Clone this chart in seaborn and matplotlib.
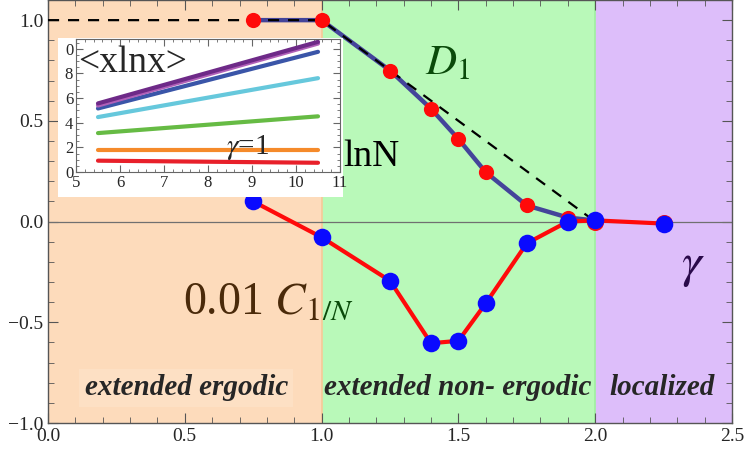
import numpy as np
import pandas as pd
import matplotlib
matplotlib.use("Agg")
import matplotlib.pyplot as plt
from matplotlib.patches import Rectangle
from matplotlib.ticker import MultipleLocator
import seaborn as sns

# main panel data
gamma_d1 = [0.75, 1.0, 1.25, 1.4, 1.5, 1.6, 1.75, 1.9, 2.0]
d1_vals = [1.0, 1.0, 0.75, 0.56, 0.41, 0.245, 0.08, 0.02, 0.005]

gamma_c = [0.75, 1.0, 1.25, 1.4, 1.5, 1.6, 1.75, 1.9, 2.0, 2.25]
c_vals = [0.1, -0.078, -0.294, -0.604, -0.592, -0.406, -0.108, 0.0, 0.006, -0.01]

# red D1 points beyond 2 (under the blue markers)
gamma_d1_tail = [2.0, 2.25]
d1_tail = [0.0, -0.005]

# dashed reference line
ref_x = [0.0, 1.0, 2.0]
ref_y = [1.0, 1.0, 0.0]

xticks = [0.0, 0.5, 1.0, 1.5, 2.0, 2.5]
xtick_labels = ["0.0", "0.5", "1.0", "1.5", "2.0", "2.5"]
yticks = [-1.0, -0.5, 0.0, 0.5, 1.0]
ytick_labels = ["\u22121.0", "\u22120.5", "0.0", "0.5", "1.0"]

# inset: <x ln x> vs ln N
inset_lnN = [5.5, 10.5]
inset_lines = {
    "red": [0.92, 0.75],
    "orange": [1.76, 1.76],
    "green": [3.16, 4.52],
    "cyan": [4.46, 7.62],
    "blue": [5.16, 9.76],
    "magenta": [5.40, 10.43],
    "purple": [5.57, 10.57],
}
inset_colors = {
    "red": "#e8202a",
    "orange": "#f58a2a",
    "green": "#66bb44",
    "cyan": "#66c8dc",
    "blue": "#3a55a8",
    "magenta": "#b060b8",
    "purple": "#6e2a88",
}
inset_xticks = [5, 6, 7, 8, 9, 10, 11]
inset_yticks = [0, 2, 4, 6, 8, 10]
inset_ytick_labels = ["0", "2", "4", "6", "8", "0"]

regions = [(0.0, 1.0, "#fddbbb"), (1.0, 2.0, "#b9f9b9"), (2.0, 2.5, "#ddbefa")]

sns.set_style("ticks")
plt.rcParams["font.family"] = ["Liberation Serif", "DejaVu Serif"]
plt.rcParams["mathtext.fontset"] = "stix"
serif = "Liberation Serif"

fig = plt.figure(figsize=(7.47, 4.57), dpi=100)
ax = fig.add_axes([48 / 747, 1 - 423 / 457, (732 - 48) / 747, 423 / 457])

for x0, x1, c in regions:
    ax.axvspan(x0, x1, color=c, zorder=0, lw=0)
ax.axvline(1.0, color="#f8c898", lw=1.2, zorder=0.5)
ax.axvline(2.0, color="#9ef09e", lw=1.2, zorder=0.5)
ax.axhline(0.0, color="#707070", lw=0.9, zorder=1)

df_ref = pd.DataFrame({"x": ref_x, "y": ref_y})
df_d1 = pd.DataFrame({"x": gamma_d1, "y": d1_vals})
df_c = pd.DataFrame({"x": gamma_c, "y": c_vals})
df_tail = pd.DataFrame({"x": gamma_d1_tail, "y": d1_tail})

sns.lineplot(data=df_d1, x="x", y="y", ax=ax, color="#44449a", lw=3.2,
             sort=False, zorder=3)
sns.lineplot(data=df_ref, x="x", y="y", ax=ax, color="black", lw=1.6,
             sort=False, zorder=4, dashes=False, linestyle=(0, (5, 4)))
sns.scatterplot(data=df_d1, x="x", y="y", ax=ax, color="#ff0a0a", s=120,
                linewidth=0, zorder=5)
sns.scatterplot(data=df_tail, x="x", y="y", ax=ax, color="#ff0a0a", s=150,
                linewidth=0, zorder=5)
sns.lineplot(data=df_c, x="x", y="y", ax=ax, color="#ff0a0a", lw=3.0,
             sort=False, zorder=5)
sns.scatterplot(data=df_c, x="x", y="y", ax=ax, color="#0a0aff", s=160,
                linewidth=0, zorder=6)

ax.set_xlim(0, 2.5)
ax.set_ylim(-1.0, 1.1)
ax.set_xlabel("")
ax.set_ylabel("")
ax.set_xticks(xticks, xtick_labels, fontfamily=serif, fontsize=14)
ax.set_yticks(yticks, ytick_labels, fontfamily=serif, fontsize=14)
ax.xaxis.set_minor_locator(MultipleLocator(0.1))
ax.yaxis.set_minor_locator(MultipleLocator(0.1))
ax.tick_params(which="both", direction="in", top=True, right=True,
               color="#555555")
ax.tick_params(which="major", length=7)
ax.tick_params(which="minor", length=4)
for s in ax.spines.values():
    s.set_color("#555555")
    s.set_linewidth(1.0)

# labels
ax.text(1.46, 0.78, "$D_1$", color="#0a4a0a", fontsize=31, ha="center", va="center", zorder=7)
ax.text(0.994, -0.458, "0.01 $C_1$", color="#4a2a0a", fontsize=33, ha="right", va="baseline", zorder=7)
ax.text(1.002, -0.49, "$/N$", color="#0a4a0a", fontsize=21, ha="left", va="baseline", zorder=7)
ax.text(2.358, -0.22, r"$\gamma$", color="#2a0a4a", fontsize=36, ha="center", va="center", zorder=7)
ax.text(1.079, 0.32, "lnN", color="black", fontsize=27, ha="left", va="center", zorder=7)

bold_kw = dict(fontsize=21, fontweight="bold", fontstyle="italic", ha="center",
               va="center", zorder=7)
ax.text(0.505, -0.825, "extended ergodic", bbox=dict(fc="#fde0c4", ec="none", pad=4), **bold_kw)
ax.text(1.496, -0.825, "extended non- ergodic", **bold_kw)
ax.text(2.245, -0.825, "localized", **bold_kw)

# white backdrop for inset
fig.patches.append(Rectangle((58 / 747, 1 - 197 / 457), (343 - 58) / 747, (197 - 38) / 457,
                             transform=fig.transFigure, facecolor="white",
                             edgecolor="none", zorder=10))

ins = fig.add_axes([76 / 747, 1 - 172 / 457, (340 - 76) / 747, (172 - 39) / 457], zorder=11)
ins.set_facecolor("white")
for name, vals in inset_lines.items():
    d = pd.DataFrame({"x": inset_lnN, "y": vals})
    sns.lineplot(data=d, x="x", y="y", ax=ins, color=inset_colors[name], lw=3.0)
ins.set_xlim(5, 11)
ins.set_ylim(0, 10.8)
ins.set_xlabel("")
ins.set_ylabel("")
ins.set_xticks(inset_xticks, [str(t) for t in inset_xticks], fontfamily=serif, fontsize=12)
ins.set_yticks(inset_yticks, inset_ytick_labels, fontfamily=serif, fontsize=12)
ins.xaxis.set_minor_locator(MultipleLocator(0.2))
ins.yaxis.set_minor_locator(MultipleLocator(0.5))
ins.tick_params(which="both", direction="in", top=True, right=True,
                color="#666666", pad=2)
ins.tick_params(which="major", length=5)
ins.tick_params(which="minor", length=2.5)
for s in ins.spines.values():
    s.set_color("#666666")
    s.set_linewidth(0.8)
ins.text(5.05, 8.9, "<xlnx>", fontsize=27, ha="left", va="center")
ins.text(8.89, 1.95, r"$\gamma$=1", fontsize=21, ha="center", va="center")

fig.savefig("out.png", dpi=100)
